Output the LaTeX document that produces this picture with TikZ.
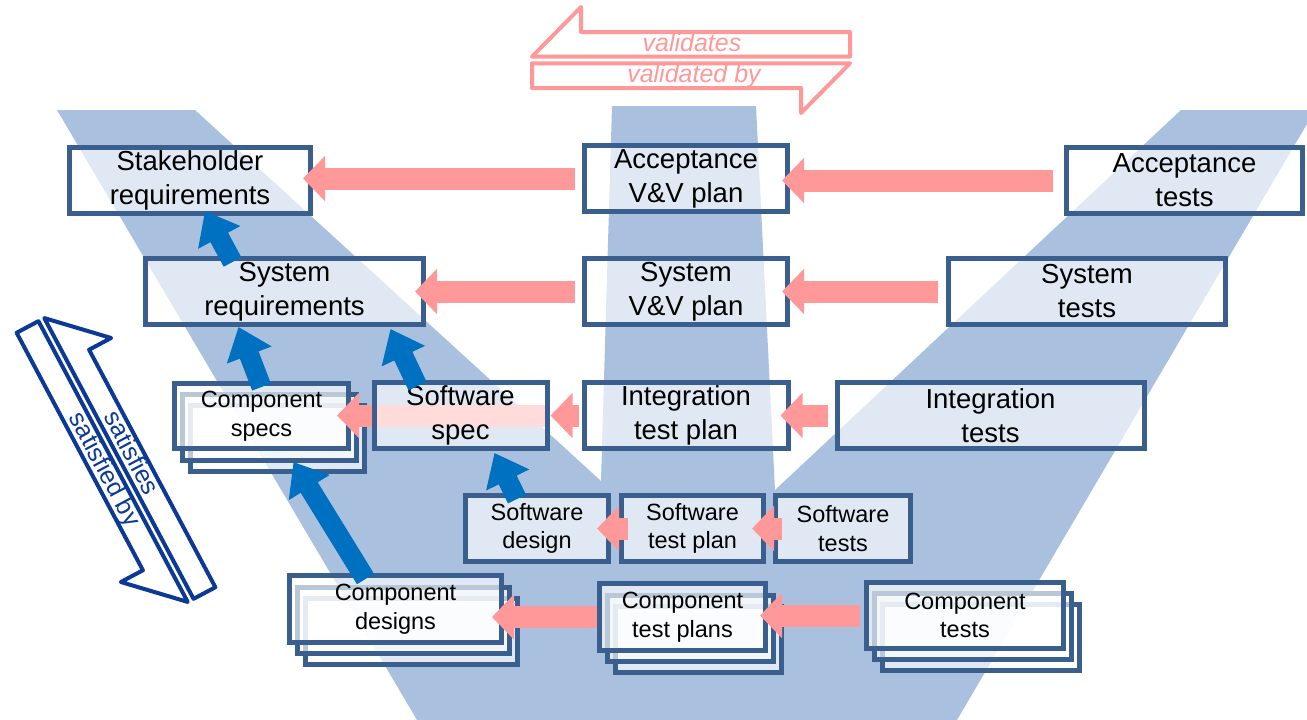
\documentclass[tikz,border=0pt]{standalone}
\usepackage{fontspec}
\setmainfont{Liberation Sans}
\usetikzlibrary{positioning, arrows.meta, calc}

\definecolor{vband}{RGB}{169,193,222}
\definecolor{boxline}{RGB}{58,95,142}
\definecolor{vvpink}{RGB}{255,153,153}
\definecolor{satblue}{RGB}{0,112,192}
\definecolor{satnavy}{RGB}{12,56,150}

\pgfdeclarelayer{vshape}
\pgfdeclarelayer{sheets}
\pgfdeclarelayer{behind}
\pgfsetlayers{vshape,sheets,behind,main}

\begin{document}
\begin{tikzpicture}[
    x=1pt, y=-1pt,
    block/.style={rectangle, draw=boxline, line width=5pt, fill=white, fill opacity=0.65, text opacity=1, minimum height=66pt, inner sep=0pt, align=center, font=\fontsize{27.5}{34}\selectfont},
    subblock/.style={block, font=\fontsize{23.5}{28.5}\selectfont},
    arrow/.style={-{Triangle[length=22pt, width=44pt]}, line width=22pt, draw=vvpink},
    uparrow/.style={-{Triangle[length=30pt, width=46pt]}, line width=20pt, draw=satblue},
    halfarrow/.style={line width=4pt, line join=round, fill=white},
    tag/.style={font=\fontsize{25}{30}\selectfont, anchor=base, inner sep=0pt}
]
\useasboundingbox (0,0) rectangle (1307,720);

% V shape
\begin{pgfonlayer}{vshape}
\fill [vband] (57,110) -- (195,110) -- (601,481) -- (612,106) -- (756,106) -- (775,490)
  -- (1181,110) -- (1307,110) -- (1307,124) -- (957,720) -- (417,720) -- cycle;
\end{pgfonlayer}

% validates / satisfies
\foreach \at/\ang/\col/\slant/\fwd/\back in {{691,60}/0/vvpink/\itshape/validates/validated by, {116,460}/-62/satnavy/\upshape/satisfies/satisfied by} {
  \begin{scope}[shift={(\at)}, rotate=\ang, transform shape, color=\col]
    \draw [halfarrow] (-159,-3.3) -- (-110,-53) -- (-110,-28) -- (159,-28) -- (159,-3.3) -- cycle;
    \draw [halfarrow] (-159,3.3) -- (159,3.3) -- (110,53) -- (110,28) -- (-159,28) -- cycle;
    \node (\fwd) [tag] at (1,-9) {\slant\fwd};
    \node (\fwd-back) [tag] at (3,22) {\slant\back};
  \end{scope}
}

% Nodes
\node (StakeReq) [block, minimum width=241pt] at (190,180.5) {Stakeholder\\requirements};
\node (SysReq) [block, minimum width=278pt] at (284.5,291.5) {System\\requirements};

\node (AccPlan) [block, minimum width=203pt] at (686,178.5) {Acceptance\\V\&V plan};
\node (SysPlan) [block, minimum width=203pt, below=42pt of AccPlan] {System\\V\&V plan};
\node (IntPlan) [block, minimum width=204pt, below=53pt of SysPlan] {Integration\\test plan};
\node (SwSpec) [block, minimum width=173pt, left=32pt of IntPlan] {Software\\spec};

\node (AccTests) [block, minimum width=236pt] at (1184.5,180.5) {Acceptance\\tests};
\node (SysTests) [block, minimum width=277pt] at (1087,291.5) {System\\tests};
\node (IntTests) [block, minimum width=307pt, right=44pt of IntPlan] {Integration\\tests};

\node (SwDesign) [subblock, minimum width=143pt] at (537,528.5) {Software\\design};
\node (SwPlan) [subblock, minimum width=142pt, right=8pt of SwDesign] {Software\\test plan};
\node (SwTests) [subblock, minimum width=135pt, right=7pt of SwPlan] {Software\\tests};

\node (CompDesigns) [subblock, minimum width=212pt, minimum height=67pt] at (395.5,609) {Component\\designs};
\node (CompPlans) [subblock, minimum width=166pt, minimum height=67pt] at (682.5,617) {Component\\test plans};
\node (CompTests) [subblock, minimum width=197pt] at (965,615.5) {Component\\tests};

\begin{pgfonlayer}{behind}
\node (CompSpecs) [subblock, minimum width=174pt, minimum height=65pt] at (261.5,416) {Component\\specs};
\draw [arrow] ([xshift=-5pt]SwSpec.east) -- ($(SwSpec.east -| CompSpecs.east)+(-14,0)$);
\end{pgfonlayer}

% stacked sheets
\begin{pgfonlayer}{sheets}
\foreach \k in {2,1}
  \foreach \stack/\boxw in {CompSpecs/174pt, CompDesigns/212pt, CompPlans/166pt, CompTests/197pt}
    \node (\stack\k) [subblock, minimum width=\boxw] at ($(\stack)+\k*(8,11)$) {};
\end{pgfonlayer}

% Arrows
\draw [arrow] ([xshift=-7pt]AccPlan.west) -- ($(AccPlan.west -| StakeReq.east)+(-10,0)$);
\draw [arrow] ([xshift=-11pt]AccTests.west) -- ($(AccTests.west -| AccPlan.east)+(-8,0)$);
\draw [arrow] ([xshift=-7pt]SysPlan.west) -- ($(SysPlan.west -| SysReq.east)+(-11,0)$);
\draw [arrow] ([xshift=-8pt]SysTests.west) -- ($(SysTests.west -| SysPlan.east)+(-8,0)$);
\draw [arrow] ([xshift=-3pt]IntPlan.west) -- ($(IntPlan.west -| SwSpec.east)+(1,0)$);
\draw [arrow] ([xshift=-7pt]IntTests.west) -- ($(IntTests.west -| IntPlan.east)+(-10,0)$);
\draw [arrow] ([xshift=9pt]SwPlan.west) -- ($(SwPlan.west -| SwDesign.east)+(-14,0)$);
\draw [arrow] ([xshift=9pt]SwTests.west) -- ($(SwTests.west -| SwPlan.east)+(-14,0)$);
\draw [arrow] (CompPlans.west) -- ($(CompPlans.west -| CompDesigns.east)+(-12,0)$);
\draw [arrow] ([xshift=-4pt]CompTests.west) -- ($(CompTests.west -| CompPlans.east)+(-8,0)$);

\draw [uparrow] ([xshift=-52pt, yshift=-6pt]SysReq.north) -- ([xshift=15pt, yshift=5pt]StakeReq.south);
\draw [uparrow] ([yshift=-6pt]CompSpecs.north) -- ([xshift=-46pt]SysReq.south);
\draw [uparrow] ([xshift=-43pt, yshift=-6pt]SwSpec.north) -- ([xshift=106pt, yshift=-2pt]SysReq.south);
\draw [uparrow] ([xshift=-20pt, yshift=-6pt]SwDesign.north) -- ([xshift=34pt, yshift=-2pt]SwSpec.south);
\draw [uparrow] ([xshift=-30pt, yshift=-6pt]CompDesigns.north) -- ([xshift=32pt, yshift=-11pt]CompSpecs.south);

\end{tikzpicture}
\end{document}
